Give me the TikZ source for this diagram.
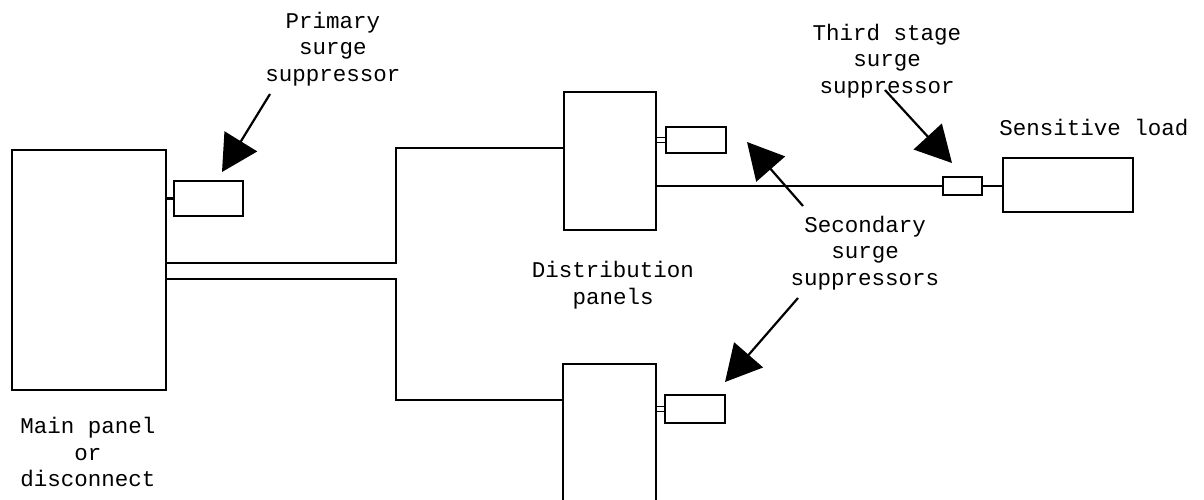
\documentclass[tikz,border=0pt]{standalone}
\usepackage{fontspec}
\newfontfamily\typefont{Liberation Mono}
\usepackage{tikz}
\usetikzlibrary{arrows.meta, positioning}

\begin{document}
\begin{tikzpicture}[
  x=1pt, y=-1pt,
  box/.style={draw, line width=1.6pt, inner sep=0pt},
  wire/.style={line width=1.6pt},
  stub/.style={line width=1.2pt, double, double distance=4pt},
  label/.style={align=center, font=\typefont\fontsize{22.5}{26.5}\selectfont},
  pointer/.style={line width=2.2pt, -{Triangle[length=36pt, width=38pt]}}
]
\useasboundingbox (0,0) rectangle (1204,500);

% Nodes
\node[box, minimum width=154pt, minimum height=240pt] (main) at (89,270) {};
\node[box, minimum width=69pt, minimum height=35pt] (prim) at (208.5,198.5) {};
\node[box, minimum width=92pt, minimum height=138pt] (dist1) at (610,161) {};
\node[box, minimum width=60pt, minimum height=26pt] (sec1) at (696,140) {};
\node[box, minimum width=93pt, minimum height=140pt] (dist2) at (609.5,434) {};
\node[box, minimum width=60pt, minimum height=28pt] (sec2) at (695,409) {};
\node[box, minimum width=39pt, minimum height=18pt] (third) at (962.5,186) {};
\node[box, minimum width=130pt, minimum height=54pt] (load) at (1068,185) {};

\node[label] (mainlbl) at (88,452) {Main panel\\or\\disconnect};
\node[label] (primlbl) at (333,49) {Primary\\surge\\suppressor};
\node[label] (distlbl) at (613,285) {Distribution\\panels};
\node[label] (seclbl) at (865,253) {Secondary\\surge\\suppressors};
\node[label] (thirdlbl) at (887,61) {Third stage\\surge\\suppressor};
\node[label] (loadlbl) at (1094,127) {Sensitive load};

\coordinate (bend1) at (396,148);
\coordinate (bend2) at (396,400);
\coordinate (primfrom) at (270,94);
\coordinate (primtip) at (222,172);
\coordinate (thirdfrom) at (885,90);
\coordinate (thirdtip) at (952,163);
\coordinate (secfrom1) at (803,206);
\coordinate (sectip1) at (747,142);
\coordinate (secfrom2) at (798,298);
\coordinate (sectip2) at (725,382);

% Wires
\draw[wire] (main.east |- 0,263) -| (bend1) -- (dist1.west |- bend1);
\draw[wire] (main.east |- 0,279) -| (bend2) -- (dist2.west |- bend2);
\draw[wire] (dist1.east |- third.west) -- (third.west);
\draw[line width=3pt] (main.east |- prim) -- (prim.west);
\draw[stub] (dist1.east |- sec1) -- (sec1.west);
\draw[stub] (dist2.east |- sec2) -- (sec2.west);
\draw[wire] (third.east) -- (load.west |- third.east);

% Pointers
\draw[pointer] (primfrom) -- (primtip);
\draw[pointer] (thirdfrom) -- (thirdtip);
\draw[pointer] (secfrom1) -- (sectip1);
\draw[pointer] (secfrom2) -- (sectip2);
\end{tikzpicture}
\end{document}
